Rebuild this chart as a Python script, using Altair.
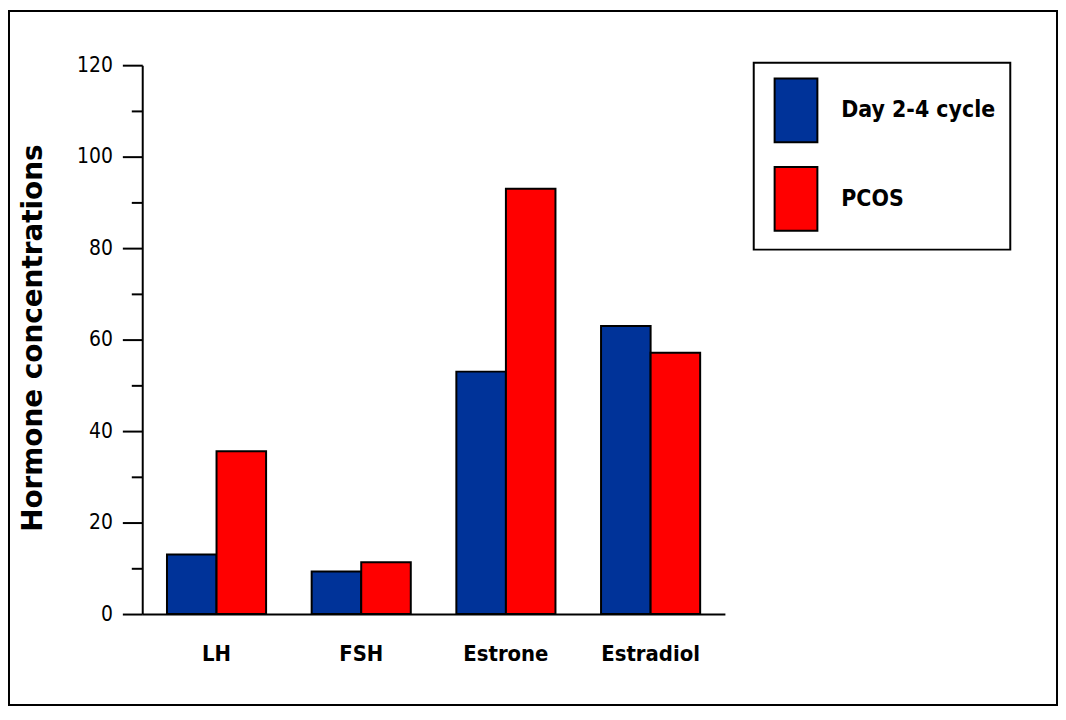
import altair as alt
import pandas as pd

categories = ["LH", "FSH", "Estrone", "Estradiol"]
series_names = ["Day 2-4 cycle", "PCOS"]
day24_values = [13, 9.3, 53, 63]
pcos_values = [35.6, 11.3, 93, 57.1]
major_ticks = [0, 20, 40, 60, 80, 100, 120]
minor_ticks = [10, 30, 50, 70, 90, 110]
colors = ["#003399", "#ff0000"]

rows = []
for c, a, b in zip(categories, day24_values, pcos_values):
    rows.append({"hormone": c, "group": series_names[0], "value": a})
    rows.append({"hormone": c, "group": series_names[1], "value": b})
df = pd.DataFrame(rows)

NARROW = "DejaVu Sans Condensed, sans-serif"

W, H = 1056, 700
PL, PT = 135, 55.5
PW, PH = 586, 552

yscale = alt.Scale(domain=[0, 120], nice=False, zero=True)

frame = alt.Chart(pd.DataFrame({"k": [0]})).mark_rect(
    fillOpacity=0, stroke="black", strokeWidth=2
).encode(
    x=alt.value(-PL + 1), x2=alt.value(W - PL - 1),
    y=alt.value(-PT + 1), y2=alt.value(H - PT - 1),
)

bars = alt.Chart(df).mark_bar(stroke="black", strokeWidth=2).encode(
    x=alt.X("hormone:N", sort=categories,
            scale=alt.Scale(paddingInner=0.315, paddingOuter=0.171),
            axis=alt.Axis(title=None, ticks=False, tickSize=0, labelAngle=0,
                          labelFont=NARROW, labelFontSize=22, labelFontWeight="bold",
                          labelColor="black", labelPadding=30,
                          domainColor="black", domainWidth=2)),
    xOffset=alt.XOffset("group:N", sort=series_names, scale=alt.Scale(paddingInner=0, paddingOuter=0)),
    y=alt.Y("value:Q", scale=yscale,
            axis=alt.Axis(values=major_ticks, orient="left", title="Hormone concentrations",
                          titleFont="DejaVu Sans", titleFontWeight="bold", titleFontSize=28,
                          titleColor="black", titleAngle=270, titleBaseline="middle",
                          titleX=-109, titleY=274,
                          tickSize=20, tickWidth=2, tickColor="black",
                          domainColor="black", domainWidth=2, grid=False,
                          labelFont=NARROW, labelFontSize=21, labelColor="black",
                          labelPadding=10)),
    fill=alt.Fill("group:N", sort=series_names,
                  scale=alt.Scale(domain=series_names, range=colors),
                  legend=alt.Legend(title=None, orient="none", legendX=615, legendY=-2.5,
                                    strokeColor="black", fillColor="white",
                                    padding=15,
                                    symbolType="M-1,-1H0.344V1H-1Z",
                                    symbolSize=4096, symbolStrokeColor="black",
                                    symbolStrokeWidth=2, symbolOpacity=1,
                                    symbolOffset=5, labelOffset=2, rowPadding=17,
                                    labelFont=NARROW, labelFontSize=23, labelLimit=400,
                                    labelFontWeight="bold", labelColor="black")),
)

minor = alt.Chart(pd.DataFrame({"t": minor_ticks})).mark_point(opacity=0).encode(
    y=alt.Y("t:Q", scale=yscale,
            axis=alt.Axis(values=minor_ticks, orient="left", title=None, labels=False,
                          domain=False, grid=False, tickSize=11, tickWidth=2,
                          tickColor="black")),
)

chart = alt.layer(frame, minor, bars).resolve_axis(y="independent").properties(
    width=PW, height=PH,
    autosize=alt.AutoSizeParams(type="none"),
    padding={"left": PL, "top": PT, "right": W - PL - PW, "bottom": H - PT - PH},
).configure_view(stroke=None).configure_legend(strokeWidth=2)

chart.save("out.html", embed_options={"renderer": "svg", "actions": False})
